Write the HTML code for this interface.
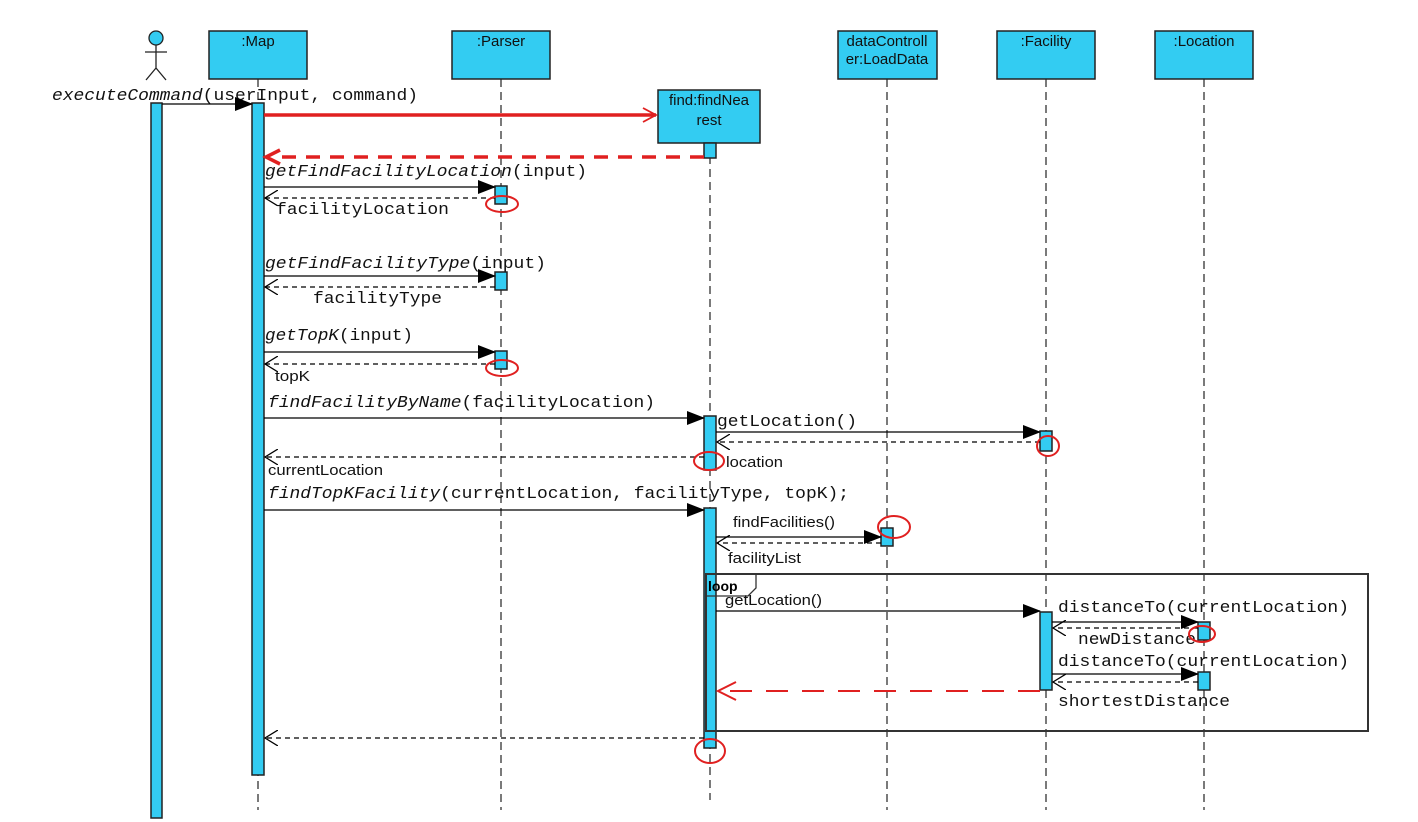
<!DOCTYPE html>
<html><head><style>body{margin:0;background:#fff}svg{display:block}
.m{font-family:"Liberation Mono",monospace;font-size:17px;fill:#111}
.s{font-family:"Liberation Sans",sans-serif;font-size:15px;fill:#111}
.h{font-family:"Liberation Sans",sans-serif;font-size:15px;fill:#111}
.b{fill:#33ccf2;stroke:#222;stroke-width:1.5}
.ll{stroke:#333;stroke-width:1.3;stroke-dasharray:8,5}
.a{stroke:#000;stroke-width:1.3}
.d{stroke:#000;stroke-width:1.3;stroke-dasharray:5,4}
.rc{fill:none;stroke:#e02020;stroke-width:2}
</style></head><body>
<svg width="1418" height="822" viewBox="0 0 1418 822">
<defs>
<marker id="f" markerWidth="18" markerHeight="14" refX="17" refY="7" orient="auto" markerUnits="userSpaceOnUse"><path d="M0,0 L18,7 L0,14z" fill="#000"/></marker>
<marker id="o" markerWidth="14" markerHeight="16" refX="13" refY="8" orient="auto" markerUnits="userSpaceOnUse"><path d="M0,0 L13,8 L0,16" fill="none" stroke="#000" stroke-width="1.3"/></marker>
<marker id="ro" markerWidth="16" markerHeight="16" refX="14" refY="8" orient="auto" markerUnits="userSpaceOnUse"><path d="M1,1 L14,8 L1,15" fill="none" stroke="#e02020" stroke-width="1.8"/></marker>
</defs>
<!-- lifelines -->
<line class="ll" x1="258" y1="79" x2="258" y2="810"/>
<line class="ll" x1="501" y1="79" x2="501" y2="810"/>
<line class="ll" x1="710" y1="143" x2="710" y2="800"/>
<line class="ll" x1="887" y1="79" x2="887" y2="810"/>
<line class="ll" x1="1046" y1="79" x2="1046" y2="810"/>
<line class="ll" x1="1204" y1="79" x2="1204" y2="810"/>
<!-- actor -->
<circle cx="156" cy="38" r="7" fill="#33ccf2" stroke="#222" stroke-width="1.3"/>
<path d="M156,45 V68 M145,52 H167 M156,68 L146,80 M156,68 L166,80" stroke="#222" stroke-width="1.3" fill="none"/>
<!-- heads -->
<rect class="b" x="209" y="31" width="98" height="48"/><text class="h" x="258" y="46" text-anchor="middle">:Map</text>
<rect class="b" x="452" y="31" width="98" height="48"/><text class="h" x="501" y="46" text-anchor="middle">:Parser</text>
<rect class="b" x="838" y="31" width="99" height="48"/><text class="h" x="887" y="46" text-anchor="middle">dataControll</text><text class="h" x="887" y="64" text-anchor="middle">er:LoadData</text>
<rect class="b" x="997" y="31" width="98" height="48"/><text class="h" x="1046" y="46" text-anchor="middle">:Facility</text>
<rect class="b" x="1155" y="31" width="98" height="48"/><text class="h" x="1204" y="46" text-anchor="middle">:Location</text>
<rect class="b" x="658" y="90" width="102" height="53"/><text class="h" x="709" y="105" text-anchor="middle">find:findNea</text><text class="h" x="709" y="125" text-anchor="middle">rest</text>
<!-- activations -->
<rect class="b" x="151" y="103" width="11" height="715"/>
<rect class="b" x="252" y="103" width="12" height="672"/>
<rect class="b" x="704" y="143" width="12" height="15"/>
<rect class="b" x="704" y="416" width="12" height="54"/>
<rect class="b" x="704" y="508" width="12" height="240"/>
<rect class="b" x="495" y="186" width="12" height="18"/>
<rect class="b" x="495" y="272" width="12" height="18"/>
<rect class="b" x="495" y="351" width="12" height="18"/>
<rect class="b" x="1040" y="431" width="12" height="20"/>
<rect class="b" x="1040" y="612" width="12" height="78"/>
<rect class="b" x="881" y="528" width="12" height="18"/>
<rect class="b" x="1198" y="622" width="12" height="18"/>
<rect class="b" x="1198" y="672" width="12" height="18"/>
<!-- loop frame -->
<rect x="706" y="574" width="662" height="157" fill="none" stroke="#333" stroke-width="2"/>
<path d="M706,596 H748 L756,588 V574" fill="none" stroke="#333" stroke-width="1.3"/>
<text x="708" y="591" font-family="Liberation Sans,sans-serif" font-size="14" font-weight="bold">loop</text>
<!-- messages -->
<text class="m" x="52" y="100" textLength="366" lengthAdjust="spacingAndGlyphs"><tspan font-style="italic">executeCommand</tspan>(userInput, command)</text>
<line class="a" x1="162" y1="104" x2="252" y2="104" marker-end="url(#f)"/>
<line x1="264" y1="115" x2="656" y2="115" stroke="#e02020" stroke-width="3.5" marker-end="url(#ro)"/>
<line x1="704" y1="157" x2="272" y2="157" stroke="#e02020" stroke-width="3.5" stroke-dasharray="14,10"/>
<path d="M280,150 L266,157 L280,164" fill="none" stroke="#e02020" stroke-width="3.5"/>
<text class="m" x="265" y="176" textLength="322" lengthAdjust="spacingAndGlyphs"><tspan font-style="italic">getFindFacilityLocation</tspan>(input)</text>
<line class="a" x1="264" y1="187" x2="495" y2="187" marker-end="url(#f)"/>
<line class="d" x1="495" y1="198" x2="265" y2="198" marker-end="url(#o)"/>
<text class="m" x="276" y="214" textLength="173" lengthAdjust="spacingAndGlyphs">facilityLocation</text>
<text class="m" x="265" y="268" textLength="281" lengthAdjust="spacingAndGlyphs"><tspan font-style="italic">getFindFacilityType</tspan>(input)</text>
<line class="a" x1="264" y1="276" x2="495" y2="276" marker-end="url(#f)"/>
<line class="d" x1="495" y1="287" x2="265" y2="287" marker-end="url(#o)"/>
<text class="m" x="313" y="303" textLength="129" lengthAdjust="spacingAndGlyphs">facilityType</text>
<text class="m" x="265" y="340" textLength="148" lengthAdjust="spacingAndGlyphs"><tspan font-style="italic">getTopK</tspan>(input)</text>
<line class="a" x1="264" y1="352" x2="495" y2="352" marker-end="url(#f)"/>
<line class="d" x1="495" y1="364" x2="265" y2="364" marker-end="url(#o)"/>
<text class="s" x="275" y="381" textLength="35" lengthAdjust="spacingAndGlyphs">topK</text>
<text class="m" x="268" y="407" textLength="387" lengthAdjust="spacingAndGlyphs"><tspan font-style="italic">findFacilityByName</tspan>(facilityLocation)</text>
<line class="a" x1="264" y1="418" x2="704" y2="418" marker-end="url(#f)"/>
<text class="m" x="717" y="426" textLength="140" lengthAdjust="spacingAndGlyphs">getLocation()</text>
<line class="a" x1="716" y1="432" x2="1040" y2="432" marker-end="url(#f)"/>
<line class="d" x1="1040" y1="442" x2="717" y2="442" marker-end="url(#o)"/>
<text class="s" x="726" y="467" textLength="57" lengthAdjust="spacingAndGlyphs">location</text>
<line class="d" x1="704" y1="457" x2="265" y2="457" marker-end="url(#o)"/>
<text class="s" x="268" y="475" textLength="115" lengthAdjust="spacingAndGlyphs">currentLocation</text>
<text class="m" x="268" y="498" textLength="581" lengthAdjust="spacingAndGlyphs"><tspan font-style="italic">findTopKFacility</tspan>(currentLocation, facilityType, topK);</text>
<line class="a" x1="264" y1="510" x2="704" y2="510" marker-end="url(#f)"/>
<text class="s" x="733" y="527" textLength="102" lengthAdjust="spacingAndGlyphs">findFacilities()</text>
<line class="a" x1="716" y1="537" x2="881" y2="537" marker-end="url(#f)"/>
<line class="d" x1="881" y1="543" x2="717" y2="543" marker-end="url(#o)"/>
<text class="s" x="728" y="563" textLength="73" lengthAdjust="spacingAndGlyphs">facilityList</text>
<text class="s" x="725" y="605" textLength="97" lengthAdjust="spacingAndGlyphs">getLocation()</text>
<line class="a" x1="716" y1="611" x2="1040" y2="611" marker-end="url(#f)"/>
<text class="m" x="1058" y="612" textLength="291" lengthAdjust="spacingAndGlyphs">distanceTo(currentLocation)</text>
<line class="a" x1="1052" y1="622" x2="1198" y2="622" marker-end="url(#f)"/>
<line class="d" x1="1198" y1="628" x2="1053" y2="628" marker-end="url(#o)"/>
<text class="m" x="1078" y="644" textLength="118" lengthAdjust="spacingAndGlyphs">newDistance</text>
<text class="m" x="1058" y="666" textLength="291" lengthAdjust="spacingAndGlyphs">distanceTo(currentLocation)</text>
<line class="a" x1="1052" y1="674" x2="1198" y2="674" marker-end="url(#f)"/>
<line class="d" x1="1198" y1="682" x2="1053" y2="682" marker-end="url(#o)"/>
<text class="m" x="1058" y="706" textLength="172" lengthAdjust="spacingAndGlyphs">shortestDistance</text>
<line x1="1040" y1="691" x2="720" y2="691" stroke="#e02020" stroke-width="2" stroke-dasharray="22,14"/>
<path d="M736,682 L718,691 L736,700" fill="none" stroke="#e02020" stroke-width="2"/>
<line class="d" x1="704" y1="738" x2="265" y2="738" marker-end="url(#o)"/>
<!-- red circles -->
<ellipse class="rc" cx="502" cy="204" rx="16" ry="8"/>
<ellipse class="rc" cx="502" cy="368" rx="16" ry="8"/>
<ellipse class="rc" cx="709" cy="461" rx="15" ry="9"/>
<ellipse class="rc" cx="1048" cy="446" rx="11" ry="10"/>
<ellipse class="rc" cx="894" cy="527" rx="16" ry="11"/>
<ellipse class="rc" cx="1202" cy="634" rx="13" ry="8"/>
<ellipse class="rc" cx="710" cy="751" rx="15" ry="12"/>
</svg>
</body></html>
